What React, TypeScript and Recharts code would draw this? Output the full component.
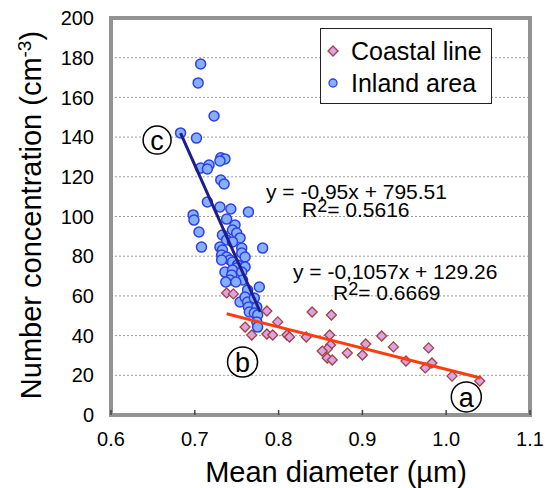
import React from "react";
import {
  ScatterChart,
  Scatter,
  XAxis,
  YAxis,
  CartesianGrid,
  ReferenceArea,
  ReferenceDot,
  Legend,
} from "recharts";

// mean diameter (µm) / number concentration (cm-3)
const coastalDiameter = [
  0.738, 0.746, 0.786, 0.799, 0.76, 0.768, 0.786, 0.793, 0.81, 0.813, 0.833,
  0.84, 0.863, 0.861, 0.862, 0.858, 0.852, 0.858, 0.864, 0.882, 0.904, 0.9,
  0.923, 0.937, 0.952, 0.979, 0.975, 0.983, 1.007, 1.04,
];
const coastalConc = [
  61.5, 61, 52.4, 46.9, 44.3, 40.3, 40.8, 40.3, 40.3, 39.3, 39.3, 51.9, 50.4,
  40.3, 35.3, 33.2, 32.2, 28.7, 27.7, 31.2, 35.8, 30.2, 39.8, 34.3, 27.2,
  33.8, 23.7, 26.2, 19.6, 17.1,
];

const inlandDiameter = [
  0.707, 0.704, 0.723, 0.683, 0.702, 0.731, 0.736, 0.73, 0.707, 0.717, 0.715,
  0.731, 0.735, 0.715, 0.73, 0.743, 0.764, 0.698, 0.699, 0.738, 0.748, 0.705,
  0.733, 0.745, 0.75, 0.754, 0.738, 0.745, 0.708, 0.781, 0.73, 0.733, 0.756,
  0.756, 0.732, 0.738, 0.742, 0.76, 0.732, 0.745, 0.751, 0.75, 0.76, 0.736,
  0.745, 0.744, 0.756, 0.742, 0.757, 0.737, 0.749, 0.777, 0.763, 0.754, 0.76,
  0.763, 0.771, 0.764, 0.774, 0.765, 0.771, 0.775, 0.774, 0.775,
];
const inlandConc = [
  176.8, 167.3, 150.6, 142.1, 139.5, 129.6, 129, 128, 124.4, 125.9, 123.9,
  118.4, 116.4, 107.3, 104.8, 103.8, 102.3, 100.8, 98.2, 98.7, 95.7, 92.2,
  90.7, 93.2, 91.7, 89.2, 88.2, 87.2, 84.6, 84.1, 84.6, 83.1, 84.1, 81.6,
  80.6, 79.6, 78.1, 79.6, 78.1, 77.1, 75.6, 74.1, 74.6, 72, 73, 70.5, 72, 68,
  68, 67, 67, 64.5, 63, 56.9, 59.4, 56.9, 58.9, 54.4, 54.4, 51.9, 51.4, 50.4,
  46.9, 44.3,
];

// trend line end points
const inlandFitX = [0.683, 0.778];
const inlandFitY = [142, 52];
const coastalFitX = [0.738, 1.041];
const coastalFitY = [51, 18.6];

const xTicks = [0.6, 0.7, 0.8, 0.9, 1.0, 1.1];
const yTicks = [0, 20, 40, 60, 80, 100, 120, 140, 160, 180, 200];

const zip = (xs: number[], ys: number[]) => xs.map((x, i) => ({ x, y: ys[i] }));

const coastal = zip(coastalDiameter, coastalConc);
const inland = zip(inlandDiameter, inlandConc);
const inlandFit = zip(inlandFitX, inlandFitY);
const coastalFit = zip(coastalFitX, coastalFitY);

const FONT = "'Liberation Sans', Arial, sans-serif";

const Diamond = (props: any) => {
  const { cx, cy } = props;
  const s = 5;
  return (
    <path
      d={`M${cx},${cy - s}L${cx + s},${cy}L${cx},${cy + s}L${cx - s},${cy}Z`}
      fill="#d9a3e8"
      stroke="#a4403c"
      strokeWidth={1.3}
    />
  );
};

const Dot = (props: any) => (
  <circle cx={props.cx} cy={props.cy} r={5} fill="#84b0ff" stroke="#2f3fe8" strokeWidth={1.5} />
);

const NoShape = () => <g />;

const LegendBox = () => (
  <div
    style={{
      border: "1.5px solid #222",
      background: "#fff",
      width: 172,
      height: 76,
      boxSizing: "border-box",
      padding: "6px 0 0 0",
      fontFamily: FONT,
      fontSize: 25,
      lineHeight: "32px",
      color: "#000",
    }}
  >
    <div style={{ display: "flex", alignItems: "center" }}>
      <svg width={30} height={20}>
        <Diamond cx={12} cy={10} />
      </svg>
      <span>Coastal line</span>
    </div>
    <div style={{ display: "flex", alignItems: "center" }}>
      <svg width={30} height={20}>
        <circle cx={12} cy={10} r={4} fill="#84b0ff" stroke="#2f3fe8" strokeWidth={1.3} />
      </svg>
      <span>Inland area</span>
    </div>
  </div>
);

const letter = (v: string) => ({
  value: v,
  position: "center" as const,
  fontSize: 27,
  fill: "#000",
  fontFamily: FONT,
});

export default function App() {
  return (
    <div style={{ position: "absolute", left: 0, top: 0, background: "#fff" }}>
      <ScatterChart
        width={555}
        height={488}
        margin={{ top: 18, right: 25, bottom: 33, left: 51 }}
      >
        <CartesianGrid
          horizontal
          vertical={false}
          stroke="#9a9a9a"
          strokeDasharray="2 2"
        />
        <XAxis
          type="number"
          dataKey="x"
          domain={[0.6, 1.1]}
          ticks={xTicks}
          allowDataOverflow
          height={40}
          axisLine={false}
          tickLine={{ stroke: "#444", strokeWidth: 1.5 }}
          tickSize={-5}
          tickMargin={22}
          tickFormatter={(v: number) => v.toFixed(1)}
          tick={{ fill: "#000", fontSize: 20, fontFamily: FONT }}
        />
        <YAxis
          type="number"
          dataKey="y"
          domain={[0, 200]}
          ticks={yTicks}
          allowDataOverflow
          width={60}
          axisLine={false}
          tickLine={false}
          tickSize={0}
          tickMargin={17}
          tick={{ fill: "#000", fontSize: 20, fontFamily: FONT }}
        />
        <ReferenceArea
          x1={0.6}
          x2={1.1}
          y1={0}
          y2={200}
          fill="none"
          fillOpacity={0}
          stroke="#939393"
          strokeWidth={4}
        />
        <Legend
          layout="vertical"
          verticalAlign="middle"
          align="center"
          wrapperStyle={{ left: 320, top: 28, width: 175 }}
          content={() => <LegendBox />}
        />
        <Scatter
          name="Coastal line"
          data={coastal}
          shape={Diamond}
          isAnimationActive={false}
        />
        <Scatter
          name="Inland area"
          data={inland}
          shape={Dot}
          isAnimationActive={false}
        />
        <Scatter
          data={inlandFit}
          line={{ stroke: "#1d1d8c", strokeWidth: 3 }}
          shape={NoShape}
          legendType="none"
          isAnimationActive={false}
        />
        <Scatter
          data={coastalFit}
          line={{ stroke: "#ff3b10", strokeWidth: 3 }}
          shape={NoShape}
          legendType="none"
          isAnimationActive={false}
        />
        <ReferenceDot x={0.655} y={138.5} r={14} fill="#fff" stroke="#000" strokeWidth={1.5} label={letter("c")} />
        <ReferenceDot x={0.757} y={26.7} r={15} fill="#fff" stroke="#000" strokeWidth={1.5} label={letter("b")} />
        <ReferenceDot x={1.024} y={9.1} r={15} fill="#fff" stroke="#000" strokeWidth={1.5} label={letter("a")} />
        <text x={266} y={199} fontFamily={FONT} fontSize={21} fill="#000">
          y = -0,95x + 795.51
        </text>
        <text x={302} y={217} fontFamily={FONT} fontSize={21} fill="#000">
          R<tspan dy={-5} fontSize={18}>2</tspan>
          <tspan dy={5}>= 0.5616</tspan>
        </text>
        <text x={293} y={279} fontFamily={FONT} fontSize={21} fill="#000">
          y = -0,1057x + 129.26
        </text>
        <text x={333} y={300} fontFamily={FONT} fontSize={21} fill="#000">
          R<tspan dy={-5} fontSize={18}>2</tspan>
          <tspan dy={5}>= 0.6669</tspan>
        </text>
        <text x={336} y={482} textAnchor="middle" fontFamily={FONT} fontSize={29} fill="#000">
          Mean diameter (µm)
        </text>
        <text
          transform="translate(41,215) rotate(-90)"
          textAnchor="middle"
          fontFamily={FONT}
          fontSize={29}
          fill="#000"
        >
          Number concentration (cm<tspan dy={-10} fontSize={19}>-3</tspan>
          <tspan dy={10}>)</tspan>
        </text>
      </ScatterChart>
    </div>
  );
}
